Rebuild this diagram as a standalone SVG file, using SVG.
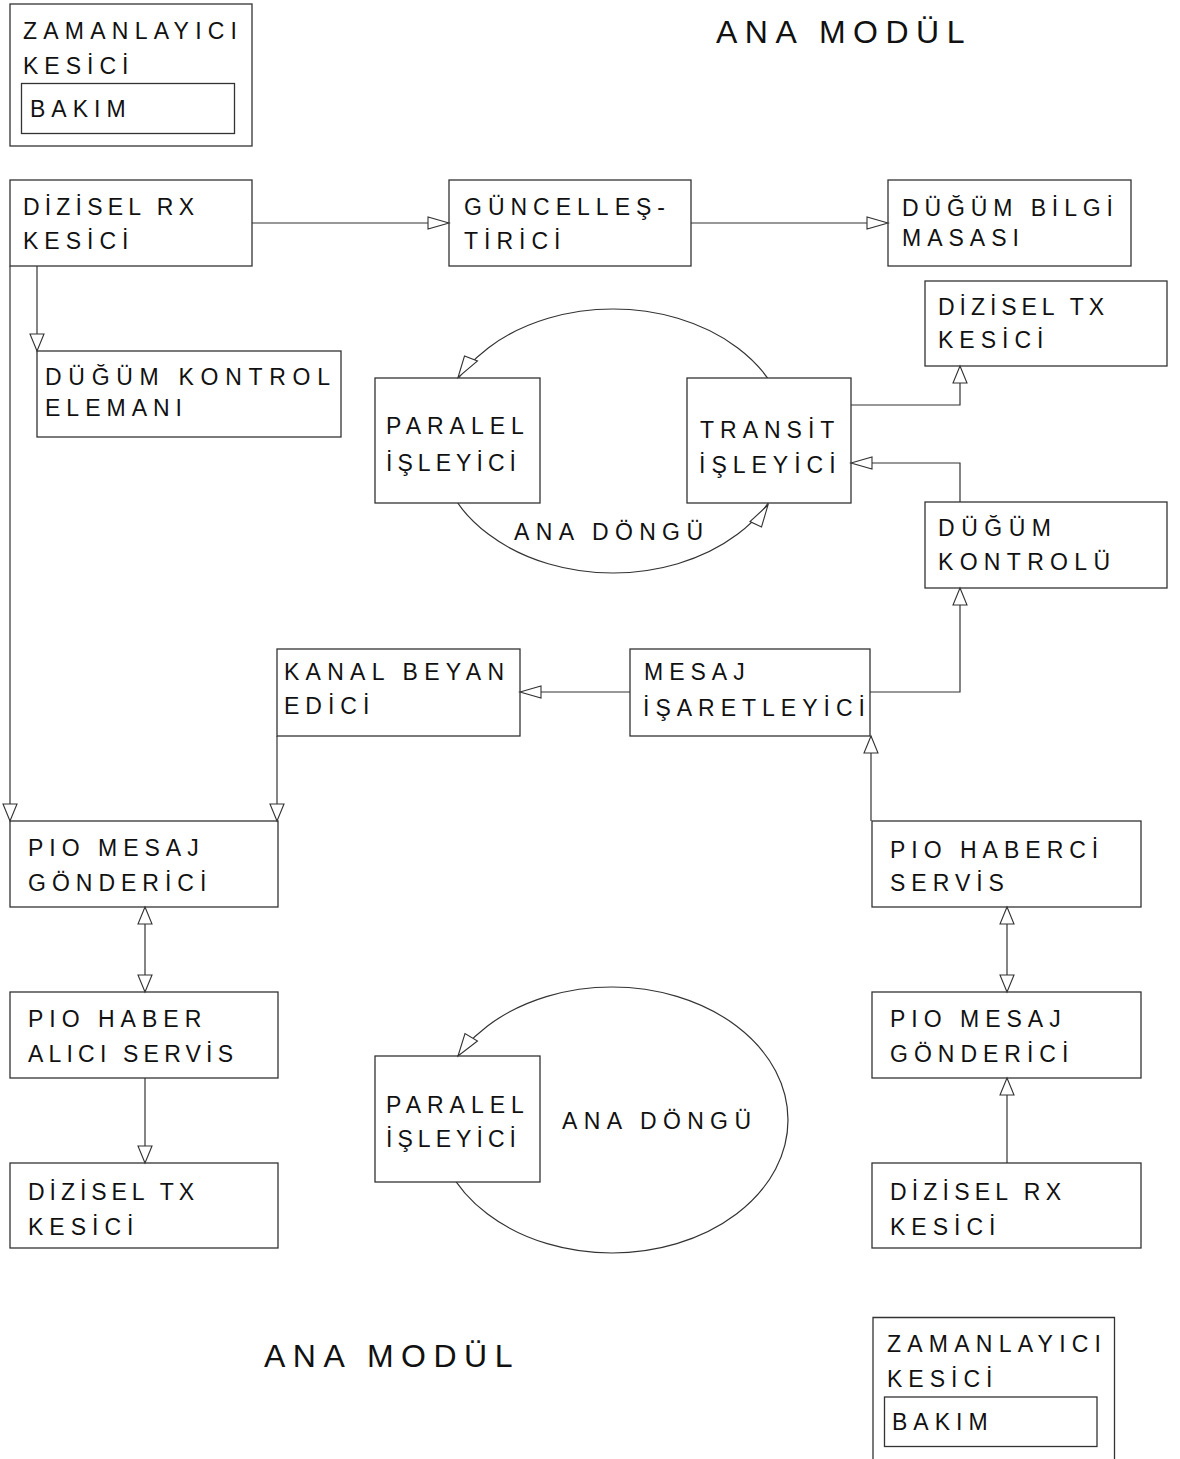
<svg xmlns="http://www.w3.org/2000/svg" xmlns:xlink="http://www.w3.org/1999/xlink" width="1180" height="1459" viewBox="0 0 1180 1459">
  <style>
    .box { fill: #ffffff; stroke: #333333; stroke-width: 1.3; }
    .ln { fill: none; stroke: #333333; stroke-width: 1.2; }
    .ah { fill: #ffffff; stroke: #333333; stroke-width: 1.1; stroke-linejoin: miter; }
    .t { font-family: "Liberation Sans", Arial, sans-serif; font-size: 23px; letter-spacing: 6px; fill: #111111; }
    .title { font-family: "Liberation Sans", Arial, sans-serif; font-size: 32px; letter-spacing: 7.5px; fill: #111111; }
  </style>
  <defs>
    <!-- hollow triangle heads, tip at the origin -->
    <path id="ah-down" class="ah" d="M0,0 L-7,-17 L7,-17 Z"/>
    <path id="ah-up" class="ah" d="M0,0 L-7,17 L7,17 Z"/>
    <path id="ah-right" class="ah" d="M0,0 L-21,-6 L-21,6 Z"/>
    <path id="ah-left" class="ah" d="M0,0 L21,-6 L21,6 Z"/>
  </defs>

  <rect width="1180" height="1459" fill="#ffffff"/>

  <!-- titles -->
  <text class="title" x="716" y="43">ANA MODÜL</text>
  <text class="title" x="264" y="1367">ANA MODÜL</text>

  <!-- main loops -->
  <g id="loops">
    <ellipse class="ln" cx="613" cy="441" rx="176" ry="132"/>
    <ellipse class="ln" cx="612" cy="1120" rx="176" ry="133"/>
    <text class="t" x="514" y="540" textLength="195" lengthAdjust="spacing">ANA DÖNGÜ</text>
    <text class="t" x="562" y="1129" textLength="195" lengthAdjust="spacing">ANA DÖNGÜ</text>
  </g>

  <!-- connectors -->
  <g id="connectors">
    <polyline class="ln" points="252,223 449,223"/>
    <polyline class="ln" points="691,223 888,223"/>
    <polyline class="ln" points="37,266 37,351"/>
    <polyline class="ln" points="10,266 10,821"/>
    <polyline class="ln" points="851,405 960,405 960,366"/>
    <polyline class="ln" points="960,502 960,463 851,463"/>
    <polyline class="ln" points="630,692 520,692"/>
    <polyline class="ln" points="870,692 960,692 960,588"/>
    <polyline class="ln" points="277,736 277,821"/>
    <polyline class="ln" points="871,821 871,736"/>
    <polyline class="ln" points="145,907 145,992"/>
    <polyline class="ln" points="145,1078 145,1163"/>
    <polyline class="ln" points="1007,907 1007,992"/>
    <polyline class="ln" points="1007,1163 1007,1078"/>
  </g>

  <!-- nodes -->
  <g id="timer-top">
    <rect class="box" x="10" y="4" width="242" height="142"/>
    <text class="t" x="23" y="39" textLength="220" lengthAdjust="spacing">ZAMANLAYICI</text>
    <text class="t" x="23" y="74">KESİCİ</text>
    <rect class="box" x="21.5" y="83.5" width="213" height="50"/>
    <text class="t" x="30" y="117">BAKIM</text>
  </g>
  <g id="serial-rx-top">
    <rect class="box" x="10" y="180" width="242" height="86"/>
    <text class="t" x="23" y="215" textLength="177" lengthAdjust="spacing">DİZİSEL RX</text>
    <text class="t" x="23" y="249">KESİCİ</text>
  </g>
  <g id="updater">
    <rect class="box" x="449" y="180" width="242" height="86"/>
    <text class="t" x="464" y="215">GÜNCELLEŞ-</text>
    <text class="t" x="464" y="249">TİRİCİ</text>
  </g>
  <g id="node-info-table">
    <rect class="box" x="888" y="180" width="243" height="86"/>
    <text class="t" x="902" y="216" textLength="217" lengthAdjust="spacing">DÜĞÜM BİLGİ</text>
    <text class="t" x="902" y="246">MASASI</text>
  </g>
  <g id="serial-tx-top">
    <rect class="box" x="925" y="281" width="242" height="85"/>
    <text class="t" x="938" y="315" textLength="172" lengthAdjust="spacing">DİZİSEL TX</text>
    <text class="t" x="938" y="348">KESİCİ</text>
  </g>
  <g id="node-control-element">
    <rect class="box" x="37" y="351" width="304" height="86"/>
    <text class="t" x="45" y="385" textLength="291" lengthAdjust="spacing">DÜĞÜM KONTROL</text>
    <text class="t" x="45" y="416">ELEMANI</text>
  </g>
  <g id="parallel-top">
    <rect class="box" x="375" y="378" width="165" height="125"/>
    <text class="t" x="386" y="434">PARALEL</text>
    <text class="t" x="386" y="471" textLength="136" lengthAdjust="spacing">İŞLEYİCİ</text>
  </g>
  <g id="transit">
    <rect class="box" x="687" y="378" width="164" height="125"/>
    <text class="t" x="700" y="438">TRANSİT</text>
    <text class="t" x="699" y="473">İŞLEYİCİ</text>
  </g>
  <g id="node-control">
    <rect class="box" x="925" y="502" width="242" height="86"/>
    <text class="t" x="938" y="536" textLength="119" lengthAdjust="spacing">DÜĞÜM</text>
    <text class="t" x="938" y="570" textLength="178" lengthAdjust="spacing">KONTROLÜ</text>
  </g>
  <g id="channel-declarer">
    <rect class="box" x="277" y="649" width="243" height="87"/>
    <text class="t" x="284" y="680" textLength="226" lengthAdjust="spacing">KANAL BEYAN</text>
    <text class="t" x="284" y="714">EDİCİ</text>
  </g>
  <g id="message-marker">
    <rect class="box" x="630" y="649" width="240" height="87"/>
    <text class="t" x="644" y="680">MESAJ</text>
    <text class="t" x="643" y="716">İŞARETLEYİCİ</text>
  </g>
  <g id="pio-sender-left">
    <rect class="box" x="10" y="821" width="268" height="86"/>
    <text class="t" x="28" y="856">PIO MESAJ</text>
    <text class="t" x="28" y="891">GÖNDERİCİ</text>
  </g>
  <g id="pio-news-service">
    <rect class="box" x="872" y="821" width="269" height="86"/>
    <text class="t" x="890" y="858">PIO HABERCİ</text>
    <text class="t" x="890" y="891">SERVİS</text>
  </g>
  <g id="pio-receiver-left">
    <rect class="box" x="10" y="992" width="268" height="86"/>
    <text class="t" x="28" y="1027">PIO HABER</text>
    <text class="t" x="28" y="1062" textLength="211" lengthAdjust="spacing">ALICI SERVİS</text>
  </g>
  <g id="pio-sender-right">
    <rect class="box" x="872" y="992" width="269" height="86"/>
    <text class="t" x="890" y="1027">PIO MESAJ</text>
    <text class="t" x="890" y="1062">GÖNDERİCİ</text>
  </g>
  <g id="parallel-bottom">
    <rect class="box" x="375" y="1056" width="165" height="126"/>
    <text class="t" x="386" y="1113">PARALEL</text>
    <text class="t" x="386" y="1147" textLength="136" lengthAdjust="spacing">İŞLEYİCİ</text>
  </g>
  <g id="serial-tx-bottom">
    <rect class="box" x="10" y="1163" width="268" height="85"/>
    <text class="t" x="28" y="1200" textLength="172" lengthAdjust="spacing">DİZİSEL TX</text>
    <text class="t" x="28" y="1235">KESİCİ</text>
  </g>
  <g id="serial-rx-bottom">
    <rect class="box" x="872" y="1163" width="269" height="85"/>
    <text class="t" x="890" y="1200" textLength="177" lengthAdjust="spacing">DİZİSEL RX</text>
    <text class="t" x="890" y="1235">KESİCİ</text>
  </g>
  <g id="timer-bottom">
    <polyline class="box" points="873,1459 873,1317.5 1114.5,1317.5 1114.5,1459"/>
    <text class="t" x="887" y="1352" textLength="220" lengthAdjust="spacing">ZAMANLAYICI</text>
    <text class="t" x="887" y="1387">KESİCİ</text>
    <rect class="box" x="884.5" y="1397" width="212.5" height="49.5"/>
    <text class="t" x="892" y="1430">BAKIM</text>
  </g>

  <!-- arrowheads -->
  <g id="arrowheads">
    <use xlink:href="#ah-right" x="449" y="223"/>
    <use xlink:href="#ah-right" x="888" y="223"/>
    <use xlink:href="#ah-down" x="37" y="351"/>
    <use xlink:href="#ah-down" x="10" y="821"/>
    <use xlink:href="#ah-up" x="960" y="366"/>
    <use xlink:href="#ah-left" x="851" y="463"/>
    <use xlink:href="#ah-left" x="520" y="692"/>
    <use xlink:href="#ah-up" x="960" y="588"/>
    <use xlink:href="#ah-down" x="277" y="821"/>
    <use xlink:href="#ah-up" x="871" y="736"/>
    <use xlink:href="#ah-up" x="145" y="907"/>
    <use xlink:href="#ah-down" x="145" y="992"/>
    <use xlink:href="#ah-down" x="145" y="1163"/>
    <use xlink:href="#ah-up" x="1007" y="907"/>
    <use xlink:href="#ah-down" x="1007" y="992"/>
    <use xlink:href="#ah-up" x="1007" y="1078"/>
    <polygon class="ah" points="458,377.5 464.5,356 477.5,361"/>
    <polygon class="ah" points="768,505 750,521.5 761.5,527"/>
    <polygon class="ah" points="458,1056 465,1033.5 477.5,1041"/>
  </g>
</svg>
